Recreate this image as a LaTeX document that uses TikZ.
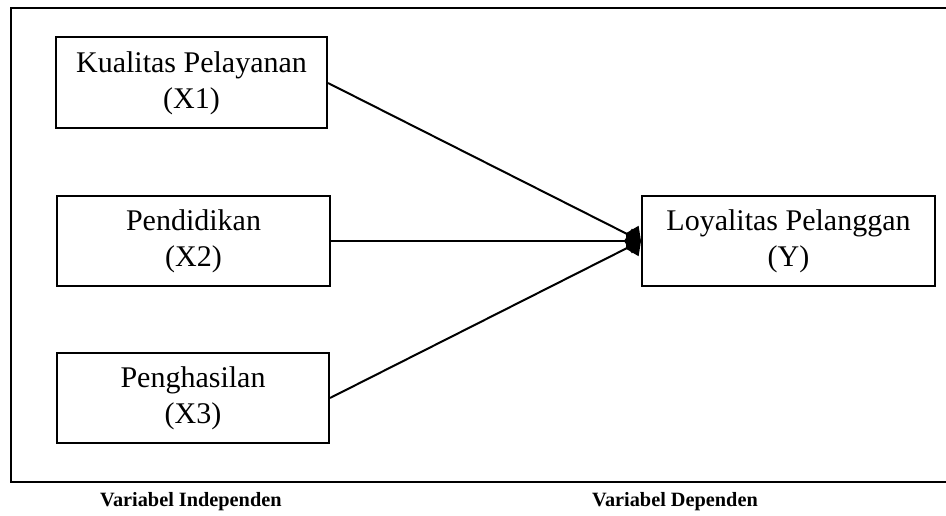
\documentclass[tikz,border=0pt]{standalone}
\usepackage{fontspec}
\setmainfont{Liberation Serif}
\usetikzlibrary{arrows.meta}

\tikzset{
  varbox/.style={draw, line width=2pt, rectangle, inner sep=0pt,
    align=center, font=\fontsize{30}{36}\selectfont},
  link/.style={line width=2pt, -{Kite[length=17pt,width=25pt,inset=8pt]}},
  caption/.style={anchor=base west, inner sep=0pt,
    font=\fontsize{20.3}{24}\selectfont\bfseries},
  frame/.style={line width=2pt}
}

\begin{document}
\begin{tikzpicture}[x=1pt, y=-1pt]
  \useasboundingbox (0,0) rectangle (946,516);

  % open frame round the model
  \coordinate (ftr) at (946,8.5);
  \coordinate (ftl) at (11,8.5);
  \coordinate (fbl) at (11,482);
  \coordinate (fbr) at (946,482);
  \draw[frame] (ftr) -- (ftl) -- (fbl) -- (fbr);

  % independent variables
  \node[varbox, minimum width=271pt, minimum height=91pt] (x1) at (191.5,83)
    {Kualitas Pelayanan\\(X1)};
  \node[varbox, minimum width=273pt, minimum height=90pt] (x2) at (193.5,241)
    {Pendidikan\\(X2)};
  \node[varbox, minimum width=272pt, minimum height=90pt] (x3) at (193,398)
    {Penghasilan\\(X3)};

  % dependent variable
  \node[varbox, minimum width=293pt, minimum height=90pt] (y) at (788.5,241)
    {Loyalitas Pelanggan\\(Y)};

  % paths to the dependent variable
  \draw[link] (x1.east) -- (y.west);
  \draw[link] (x2.east) -- (y.west);
  \draw[link] (x3.east) -- (y.west);

  % group captions
  \node[caption] (capi) at (100,506.5) {Variabel Independen};
  \node[caption] (capd) at (592,506.5) {Variabel Dependen};
\end{tikzpicture}
\end{document}
